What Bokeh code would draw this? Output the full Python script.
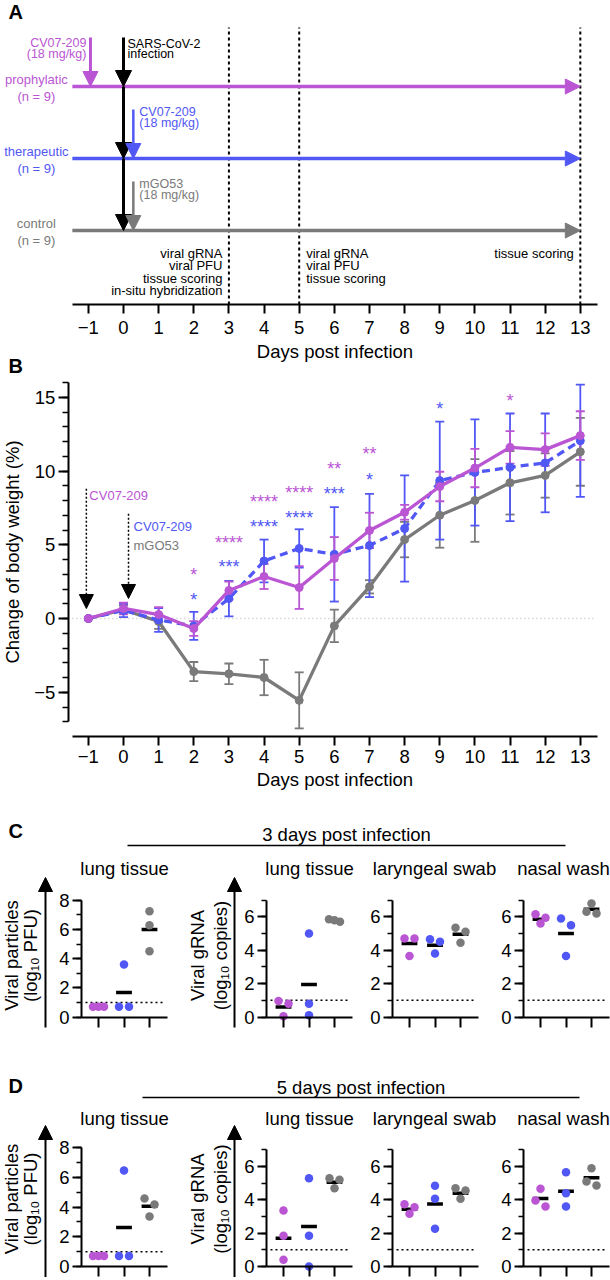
import math
from bokeh.plotting import figure
from bokeh.models import (Range1d, LinearAxis, FixedTicker, SingleIntervalTicker,
                          Arrow, NormalHead, Whisker, TeeHead, ColumnDataSource)
from bokeh.layouts import column, row
from bokeh.core.properties import value
from bokeh.embed import file_html
from bokeh.resources import INLINE

# ---------------- data ----------------
groups = ["prophylatic", "therapeutic", "control"]
group_sizes = [9, 9, 9]
treatments = ["CV07-209", "CV07-209", "mGO53"]
treatment_dose = "(18 mg/kg)"
treatment_days = [-1, 0, 0]
infection_day = 0
sampling_days = [3, 5, 13]
sampling_texts = [["viral gRNA", "viral PFU", "tissue scoring", "in-situ hybridization"],
                  ["viral  gRNA", "viral PFU", "tissue scoring"],
                  ["tissue scoring"]]

days = list(range(-1, 14))
weight_prophylactic = [0, 0.68, 0.27, -0.68, 1.9, 2.85, 2.1, 4.07, 5.97, 7.2, 8.95, 10.2, 11.6, 11.45, 12.4]
sem_prophylactic = [0, 0.4, 0.5, 0.5, 0.6, 0.85, 1.45, 1.45, 1.2, 0.5, 1.0, 1.3, 1.1, 1.1, 1.65]
weight_therapeutic = [0, 0.55, -0.1, -0.5, 1.35, 3.9, 4.75, 4.35, 4.95, 6.1, 9.35, 9.9, 10.25, 10.55, 12.05]
sem_therapeutic = [0, 0.45, 0.8, 0.95, 1.2, 1.45, 1.3, 3.2, 3.5, 3.6, 4.0, 3.6, 3.65, 3.35, 3.8]
weight_control = [0, 0.6, -0.2, -3.6, -3.75, -4.0, -5.55, -0.5, 2.15, 5.35, 7.0, 8.0, 9.2, 9.7, 11.3]
sem_control = [0, 0.3, 0.5, 0.65, 0.7, 1.2, 1.9, 1.1, 0.45, 1.2, 2.2, 2.8, 2.15, 1.5, 2.3]

star_days_prophylactic = [2, 3, 4, 5, 6, 7, 11]
star_text_prophylactic = ["*", "****", "****", "****", "**", "**", "*"]
star_y_prophylactic = [3.6, 5.8, 8.55, 9.2, 10.8, 11.8, 15.45]
star_days_therapeutic = [2, 3, 4, 5, 6, 7, 9]
star_text_therapeutic = ["*", "***", "****", "****", "***", "*", "*"]
star_y_therapeutic = [1.9, 4.15, 6.85, 7.5, 9.1, 10.1, 14.85]

tissues = ["lung tissue", "lung tissue", "laryngeal swab", "nasal wash"]
lod = 1.0
# 3 days post infection: [prophylactic, therapeutic, control]
pfu_lung_d3 = [[0.7, 0.7, 0.7], [0.7, 0.7, 3.6], [7.25, 6.28, 4.5]]
pfu_lung_d3_mean = [0.7, 1.67, 6.0]
grna_lung_d3 = [[0.96, 0.8, 0.05], [5.0, 0.8, 0.1], [5.7, 5.85, 5.8]]
grna_lung_d3_mean = [0.6, 1.95, 5.8]
grna_larynx_d3 = [[4.7, 4.7, 3.65], [4.65, 4.5, 3.8], [5.35, 5.1, 4.45]]
grna_larynx_d3_mean = [4.4, 4.3, 4.95]
grna_nasal_d3 = [[6.15, 5.6, 5.95], [5.9, 5.5, 3.65], [6.8, 6.2, 6.3]]
grna_nasal_d3_mean = [5.85, 5.0, 6.45]
# 5 days post infection
pfu_lung_d5 = [[0.7, 0.7, 0.7], [0.7, 0.7, 6.46], [4.58, 4.17, 3.37]]
pfu_lung_d5_mean = [0.7, 2.62, 4.05]
grna_lung_d5 = [[3.36, 1.84, 0.4], [5.3, 1.84, 0.0], [5.3, 5.2, 4.7]]
grna_lung_d5_mean = [1.7, 2.4, 5.05]
grna_larynx_d5 = [[3.74, 3.56, 3.16], [4.84, 4.06, 2.26], [4.7, 4.56, 4.06]]
grna_larynx_d5_mean = [3.44, 3.75, 4.4]
grna_nasal_d5 = [[4.66, 3.96, 3.6], [5.66, 4.4, 3.6], [5.9, 4.86, 5.1]]
grna_nasal_d5_mean = [4.08, 4.52, 5.33]

# ---------------- style ----------------
FONT = "Liberation Sans"
COLORS = ["#BA55D3", "#5157F4", "#7A7A7A"]
MAG, BLU, GRY = COLORS
W = 610
BIG = "18.5px"


def base_fig(w, h, xr, yr):
    p = figure(width=w, height=h, x_range=xr, y_range=yr, toolbar_location=None,
               output_backend="svg", x_axis_location=None, y_axis_location=None,
               min_border=0)
    p.outline_line_color = None
    p.background_fill_color = "white"
    p.border_fill_color = "white"
    p.grid.visible = False
    return p


def style_axis(ax):
    ax.axis_line_width = 2
    ax.axis_line_color = "black"
    ax.major_tick_line_width = 2
    ax.major_tick_line_color = "black"
    ax.minor_tick_line_width = 1.5
    ax.minor_tick_line_color = "black"
    ax.major_tick_in = 0
    ax.minor_tick_in = 0
    ax.major_label_text_font = FONT
    ax.major_label_text_font_size = BIG
    ax.major_label_text_color = "black"
    ax.axis_label_text_font = FONT
    ax.axis_label_text_font_size = BIG
    ax.axis_label_text_font_style = "normal"
    ax.axis_label_text_color = "black"


def txt(p, x, y, t, color="black", size="13px", align="left", baseline="middle",
        xo=0, yo=0, style="normal", angle=0.0):
    p.text(x=x, y=y, text=t, text_color=color, text_font=value(FONT),
           text_font_size=value(size), text_align=align, text_baseline=baseline,
           x_offset=xo, y_offset=yo, text_font_style=style, angle=angle)


# shared day scale (panels A and B)
DAY0_PX, DAY_PPU = 123.0, 35.14


def day_range():
    return Range1d((0 - DAY0_PX) / DAY_PPU, (W - DAY0_PX) / DAY_PPU)


# ---------------- panel A ----------------
A_TOP, A_H = 0.0, 380
LANE_ZERO, LANE_PPU = 302.0, 72.0
yrA = Range1d((LANE_ZERO - (A_TOP + A_H)) / LANE_PPU, (LANE_ZERO - A_TOP) / LANE_PPU)
xrA = day_range()
pA = base_fig(W, A_H, xrA, yrA)
lanes = [3, 2, 1]
tl_start = days[0] - 16 / DAY_PPU
axis_yA = -2 / LANE_PPU
axA = LinearAxis(fixed_location=axis_yA, bounds=(tl_start, days[-1] + 0.5),
                 ticker=FixedTicker(ticks=days), axis_label="Days post infection")
style_axis(axA)
axA.major_tick_out = 9
axA.major_label_standoff = 7
axA.axis_label_standoff = 4
pA.add_layout(axA, "below")

# sampling time dotted lines
top_lane = lanes[0] + 0.82
pA.segment(x0=sampling_days, y0=[axis_yA] * 3, x1=sampling_days, y1=[top_lane] * 3,
           line_color="black", line_width=2, line_dash="3 3")

# group timelines
for g, (name, n, c, ln) in enumerate(zip(groups, group_sizes, COLORS, lanes)):
    pA.add_layout(Arrow(end=NormalHead(size=15, fill_color=c, line_color=c, line_width=1),
                        x_start=tl_start, y_start=ln, x_end=days[-1], y_end=ln,
                        line_color=c, line_width=3.5))
    txt(pA, [tl_start], [ln], [name], color=c, align="center", xo=-36, yo=-7)
    txt(pA, [tl_start], [ln], ["(n = %d)" % n], color=c, align="center", xo=-36, yo=10)

# infection arrow (black) through all lanes
stops = [lanes[0] + 0.68] + lanes
for a, b in zip(stops[:-1], stops[1:]):
    pA.add_layout(Arrow(end=NormalHead(size=16, fill_color="black", line_color="black", line_width=1),
                        x_start=infection_day, y_start=a, x_end=infection_day, y_end=b,
                        line_color="black", line_width=3))
txt(pA, [infection_day], [stops[0]], ["SARS-CoV-2"], xo=4, yo=6, size="12.5px")
txt(pA, [infection_day], [stops[0]], ["infection"], xo=4, yo=16.5, size="12.5px")

# treatment arrows
for g, (drug, d, c, ln) in enumerate(zip(treatments, treatment_days, COLORS, lanes)):
    xd = d + (0.28 if d == infection_day else 0.06)
    top = ln + 0.68
    pA.add_layout(Arrow(end=NormalHead(size=15, fill_color=c, line_color=c, line_width=1),
                        x_start=xd, y_start=top, x_end=xd, y_end=ln,
                        line_color=c, line_width=3 if g == 0 else 2.5))
    if g == 0:
        txt(pA, [xd], [top], [drug], color=c, align="right", xo=-4, yo=5, size="12.5px")
        txt(pA, [xd], [top], [treatment_dose], color=c, align="right", xo=-4, yo=16, size="12.5px")
    else:
        txt(pA, [xd], [top], [drug], color=c, align="left", xo=6, yo=2, size="12.5px")
        txt(pA, [xd], [top], [treatment_dose], color=c, align="left", xo=6, yo=13, size="12.5px")

# sampling annotations
aligns = ["right", "left", "right"]
for d, lines, al in zip(sampling_days, sampling_texts, aligns):
    xo = 7 if al == "left" else -6.5
    for k, t in enumerate(lines):
        txt(pA, [d], [axis_yA], [t], align=al, xo=xo, yo=-51 + 12.3 * k)

txt(pA, [xrA.start], [yrA.end], ["A"], size="20px", style="bold", xo=8, yo=11)
txt(pA, [xrA.start], [yrA.start], ["B"], size="20px", style="bold", xo=8, yo=-15)

# ---------------- panel B ----------------
B_TOP, B_H = A_TOP + A_H, 420
B_ZERO, B_PPU = 618.0, 14.75
yrB = Range1d((B_ZERO - (B_TOP + B_H)) / B_PPU, (B_ZERO - B_TOP) / B_PPU)
xrB = day_range()
pB = base_fig(W, B_H, xrB, yrB)
yaxis_x = days[0] - 20 / DAY_PPU
axBy = LinearAxis(fixed_location=yaxis_x, bounds=(-7, 16),
                  ticker=SingleIntervalTicker(interval=5, num_minor_ticks=5),
                  axis_label="Change of body weight (%)")
style_axis(axBy)
axBy.major_tick_out = 10
axBy.minor_tick_out = 6
axBy.major_label_standoff = 3
axBy.axis_label_standoff = 8
pB.add_layout(axBy, "left")
axBx = LinearAxis(fixed_location=-8, bounds=(tl_start, days[-1] + 0.5),
                  ticker=FixedTicker(ticks=days), axis_label="Days post infection")
style_axis(axBx)
axBx.major_tick_out = 9
axBx.major_label_standoff = 4
axBx.axis_label_standoff = 3
pB.add_layout(axBx, "below")

pB.segment(x0=[yaxis_x], y0=[0], x1=[days[-1] + 0.4], y1=[0],
           line_color="#C4C4C4", line_width=1.5, line_dash="1 3")

series = [(weight_control, sem_control, GRY, "solid"),
          (weight_therapeutic, sem_therapeutic, BLU, "8 5"),
          (weight_prophylactic, sem_prophylactic, MAG, "solid")]
for vals, errs, c, dash in series:
    xs = [d for d, e in zip(days, errs) if e > 0]
    lo = [v - e for v, e in zip(vals, errs) if e > 0]
    hi = [v + e for v, e in zip(vals, errs) if e > 0]
    src = ColumnDataSource(dict(x=xs, lo=lo, hi=hi))
    pB.add_layout(Whisker(source=src, base="x", lower="lo", upper="hi", line_color=c,
                          line_width=1.8,
                          lower_head=TeeHead(size=9, line_color=c, line_width=1.8),
                          upper_head=TeeHead(size=9, line_color=c, line_width=1.8)))
    pB.line(days, vals, line_color=c, line_width=3.3, line_dash=dash)
    pB.scatter(days, vals, size=8, fill_color=c, line_color=c)

txt(pB, star_days_prophylactic, star_y_prophylactic, star_text_prophylactic, color=MAG,
    size="18px", align="center", baseline="alphabetic", yo=10)
txt(pB, star_days_therapeutic, star_y_therapeutic, star_text_therapeutic, color=BLU,
    size="18px", align="center", baseline="alphabetic", yo=10)

# treatment markers in B
arrow_px = 10 / B_PPU
b_arrows = [(treatment_days[0] - 2 / DAY_PPU, 8.8,
             weight_prophylactic[days.index(treatment_days[0])] + arrow_px),
            (treatment_days[1] + 5 / DAY_PPU, 7.1,
             weight_prophylactic[days.index(treatment_days[1])] + arrow_px)]
for xa, top, tip in b_arrows:
    pB.add_layout(Arrow(end=NormalHead(size=14, fill_color="black", line_color="black", line_width=1),
                        x_start=xa, y_start=top, x_end=xa, y_end=tip,
                        line_color="black", line_width=1.5, line_dash="2 2"))
txt(pB, [b_arrows[0][0]], [8.34], [treatments[0]], color=MAG, xo=3)
txt(pB, [b_arrows[1][0]], [6.24], [treatments[1]], color=BLU, xo=5)
txt(pB, [b_arrows[1][0]], [4.95], [treatments[2]], color=GRY, xo=5)

# ---------------- panels C / D ----------------
GX_PPU = 25.5


def swarm_offsets(vals, ppu, link_px=8.0):
    order = sorted(range(len(vals)), key=lambda i: -vals[i])
    rows = []
    for i in order:
        if rows and abs(vals[rows[-1][0]] - vals[i]) * ppu < link_px:
            rows[-1].append(i)
        else:
            rows.append([i])
    offs = [0.0] * len(vals)
    for r in rows:
        n = len(r)
        step = 10.0 if n == 2 else 5.5
        for k, i in enumerate(r):
            offs[i] = (k - (n - 1) / 2) * step
    return offs


def subplot(fig_left, fig_right, axis_px, title_off, row_h, zero_rel, ppu, ymax, title,
            vals, means, ylabels=None, lab_off=None, arrow_top=139.5, lab_mid=61.5):
    x0 = axis_px - 8.5
    xr = Range1d((fig_left - x0) / GX_PPU, (fig_right - x0) / GX_PPU)
    yr = Range1d(-(row_h - zero_rel) / ppu, zero_rel / ppu)
    p = base_fig(int(fig_right - fig_left), row_h, xr, yr)
    ax_x = (axis_px - x0) / GX_PPU
    ya = LinearAxis(fixed_location=ax_x, bounds=(0, ymax),
                    ticker=SingleIntervalTicker(interval=2, num_minor_ticks=2))
    style_axis(ya)
    ya.major_tick_out = 9
    ya.minor_tick_out = 5
    ya.major_label_standoff = 3
    p.add_layout(ya, "left")
    xa = LinearAxis(fixed_location=0, bounds=(ax_x, ax_x + 86 / GX_PPU),
                    ticker=FixedTicker(ticks=[1, 2, 3]))
    style_axis(xa)
    xa.major_label_overrides = {1: "", 2: "", 3: ""}
    xa.major_tick_out = 10
    p.add_layout(xa, "below")
    # limit of detection
    p.segment(x0=[ax_x + 4 / GX_PPU], y0=[lod], x1=[ax_x + 82 / GX_PPU], y1=[lod],
              line_color="black", line_width=1.5, line_dash="2 3")
    # means (under the points)
    gx = [1, 2, 3]
    p.segment(x0=[g - 0.31 for g in gx], y0=means, x1=[g + 0.31 for g in gx], y1=means,
              line_color="black", line_width=3.5)
    for g, c in zip(range(3), COLORS):
        offs = swarm_offsets(vals[g], ppu)
        xs = [gx[g] + o / GX_PPU for o in offs]
        p.scatter(xs, vals[g], size=8.5, fill_color=c, line_color=None)
    txt(p, [ax_x + title_off / GX_PPU], [yr.end], [title], size=BIG, align="center", yo=12)
    if ylabels:
        t1, t2, ar = lab_off
        p.add_layout(Arrow(end=NormalHead(size=14, fill_color="black", line_color="black", line_width=1),
                           x_start=ax_x + ar / GX_PPU, y_start=-10.5 / ppu,
                           x_end=ax_x + ar / GX_PPU, y_end=arrow_top / ppu,
                           line_color="black", line_width=2))
        txt(p, [ax_x + t1 / GX_PPU], [lab_mid / ppu], [ylabels[0]], size=BIG, align="center",
            angle=math.pi / 2)
        txt(p, [ax_x + t2 / GX_PPU], [lab_mid / ppu], [ylabels[1]], size=BIG, align="center",
            angle=math.pi / 2)
    return p


def header(top, h, letter, letter_y, label, label_x, label_y, line_x0, line_x1, line_y):
    xr = Range1d(0, W)
    yr = Range1d(top + h, top)
    p = base_fig(W, h, xr, yr)
    txt(p, [8], [letter_y], [letter], size="20px", style="bold")
    txt(p, [label_x], [label_y], [label], size=BIG, align="center")
    p.segment(x0=[line_x0], y0=[line_y], x1=[line_x1], y1=[line_y], line_color="black", line_width=1.5)
    return p


PFU_LAB = ["Viral particles", "(log\u2081\u2080 PFU)"]
RNA_LAB = ["Viral gRNA", "(log\u2081\u2080 copies)"]
SUBS = [(0, 170, 81, 43), (170, 360, 266, 43), (360, 499, 392, 42), (499, 610, 523, 40)]
LAB_OFFS = [(-70, -51, -36), (-69, -46, -32)]


def make_row(datasets, row_h, zero_rel, pfu_ppu, rna_ppu, arrow_top, lab_mid):
    figs = []
    for k, ((fl, fr, ax, toff), (vals, means)) in enumerate(zip(SUBS, datasets)):
        pfu = (k == 0)
        lab = PFU_LAB if k == 0 else (RNA_LAB if k == 1 else None)
        off = LAB_OFFS[k] if k < 2 else None
        figs.append(subplot(fl, fr, ax, toff, row_h, zero_rel, pfu_ppu if pfu else rna_ppu,
                            8 if pfu else 7, tissues[k], vals, means, lab, off,
                            arrow_top, lab_mid))
    return row(*figs, spacing=0)


C_TOP = B_TOP + B_H  # 800
hC = header(C_TOP, 56, "C", 830, "3 days post infection", 346, 834, 127, 565, 845)
rowC = make_row([(pfu_lung_d3, pfu_lung_d3_mean), (grna_lung_d3, grna_lung_d3_mean),
                 (grna_larynx_d3, grna_larynx_d3_mean), (grna_nasal_d3, grna_nasal_d3_mean)],
                184, 160.5, 14.6, 16.7, 139.5, 61.5)
D_TOP = C_TOP + 56 + 184  # 1040
hD = header(D_TOP, 66, "D", 1085, "5 days post infection", 360.5, 1087, 142, 579, 1097)
rowD = make_row([(pfu_lung_d5, pfu_lung_d5_mean), (grna_lung_d5, grna_lung_d5_mean),
                 (grna_larynx_d5, grna_larynx_d5_mean), (grna_nasal_d5, grna_nasal_d5_mean)],
                173, 160, 14.87, 16.67, 141, 67.5)

layout = column(pA, pB, hC, rowC, hD, rowD, spacing=0)
open("out.html", "w").write(file_html(layout, INLINE))
